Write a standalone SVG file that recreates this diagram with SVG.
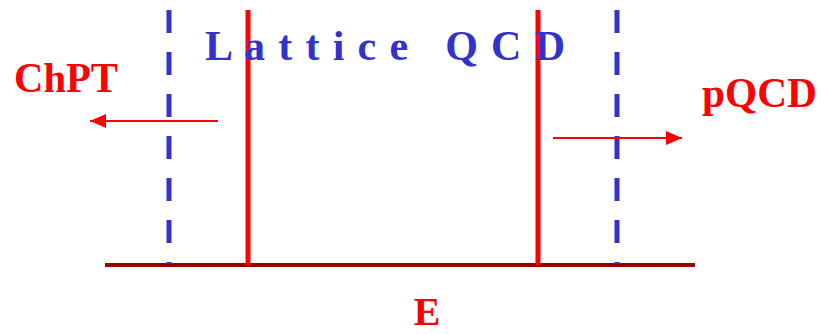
<svg xmlns="http://www.w3.org/2000/svg" width="821" height="334" viewBox="0 0 821 334">
<style>
.red{stroke:#FF0000;stroke-width:5;fill:none}
.blue{stroke:#3333CC;stroke-width:5;stroke-dasharray:23 19;fill:none}
.arr{stroke:#FF0000;stroke-width:2;fill:none}
.lbl{font-family:"Liberation Serif","Times New Roman",serif;font-weight:bold;fill:#FF0000}
.title{font-family:"Liberation Serif","Times New Roman",serif;font-weight:bold;fill:#3333CC;font-size:42px}
</style>
<defs>
<marker id="ah" markerWidth="16" markerHeight="14" refX="16" refY="7" orient="auto" markerUnits="userSpaceOnUse">
<path d="M0,0 L16,7 L0,14 Z" fill="#FF0000"/>
</marker>
</defs>
<g id="axis">
<line x1="105" y1="265" x2="695" y2="265" stroke="#990000" stroke-width="4"/>
</g>
<g id="bounds">
<line class="blue" x1="169" y1="10" x2="169" y2="264"/>
<line class="blue" x1="617" y1="10" x2="617" y2="264"/>
<line class="red" x1="248" y1="10" x2="248" y2="265"/>
<line class="red" x1="538" y1="10" x2="538" y2="265"/>
</g>
<g id="connectors">
<line class="arr" x1="218" y1="121" x2="90" y2="121" marker-end="url(#ah)"/>
<line class="arr" x1="553" y1="138" x2="682" y2="138" marker-end="url(#ah)"/>
</g>
<g id="title">
<text class="title" x="205" y="60" textLength="360" lengthAdjust="spacing" xml:space="preserve">L a t t i c e   Q C D</text>
</g>
<g id="chpt">
<text class="lbl" x="14" y="92" font-size="42" textLength="104" lengthAdjust="spacingAndGlyphs">ChPT</text>
</g>
<g id="pqcd">
<text class="lbl" x="702" y="107" font-size="42" textLength="115" lengthAdjust="spacingAndGlyphs">pQCD</text>
</g>
<g id="e">
<text class="lbl" x="427" y="325" font-size="40" text-anchor="middle">E</text>
</g>
</svg>
